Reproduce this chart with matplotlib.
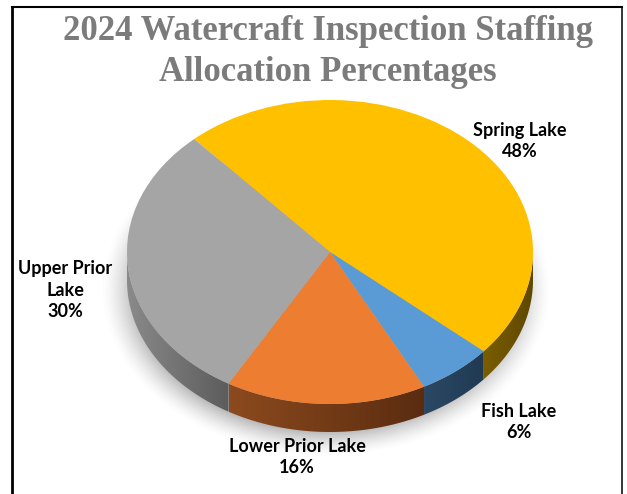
import numpy as np
import matplotlib.pyplot as plt
from matplotlib.patches import Polygon
from matplotlib.lines import Line2D
import matplotlib.colors as mcolors

# data
lakes = ["Spring Lake", "Fish Lake", "Lower Prior Lake", "Upper Prior Lake"]
shares = [48, 6, 16, 30]
label_lines = ["Spring Lake\n48%", "Fish Lake\n6%", "Lower Prior Lake\n16%", "Upper Prior\nLake\n30%"]
top_colors = ["#FFC000", "#5B9BD5", "#ED7D31", "#A5A5A5"]
side_colors = [("#7a5d00", "#5e4700"), ("#2b4864", "#203a52"),
               ("#8c4a1e", "#5a2c10"), ("#8a8a8a", "#5c5c5c")]

W, H = 627, 494
fig = plt.figure(figsize=(W / 100, H / 100), dpi=100)
ax = fig.add_axes([0, 0, 1, 1])
ax.axis("off")

# pie geometry in pixels (top face is an ellipse)
cx, cy, rx, ry = 330, 252, 203, 152
depth = 28 / ry
xlim = (-cx / rx, (W - cx) / rx)
ylim = ((cy - H) / ry, cy / ry)

# soft drop shadow
gx = np.linspace(xlim[0], xlim[1], 400)
gy = np.linspace(ylim[0], ylim[1], 320)
X, Y = np.meshgrid(gx, gy)
r = np.sqrt(((X + 0.02) / 1.11) ** 2 + ((Y + 0.25) / 1.1) ** 2)
alpha = 0.55 * np.clip((1.0 - r) / 0.16, 0, 1) ** 1.5
shadow = np.zeros(X.shape + (4,))
shadow[..., :3] = 0.45
shadow[..., 3] = alpha
ax.imshow(shadow, extent=(xlim[0], xlim[1], ylim[0], ylim[1]), origin="lower",
          aspect="auto", zorder=0, interpolation="bilinear")

# top face
wedges, _ = ax.pie(shares, colors=top_colors, startangle=132, counterclock=False,
                   radius=1, wedgeprops=dict(linewidth=0, zorder=3))

# side band of every slice (front half only)
for w, (c_left, c_right) in zip(wedges, side_colors):
    t1, t2 = w.theta1, w.theta2
    for k in (-1, 0, 1):
        lo = max(t1, 180 + 360 * k)
        hi = min(t2, 360 + 360 * k)
        if hi <= lo:
            continue
        t = np.radians(np.linspace(lo, hi, 200))
        top = np.column_stack([np.cos(t), np.sin(t)])
        bot = top[::-1] - [0, depth]
        poly = Polygon(np.vstack([top, bot]), closed=True, facecolor="none",
                       edgecolor="none", zorder=2)
        ax.add_patch(poly)
        x0, x1 = top[:, 0].min(), top[:, 0].max()
        y0, y1 = top[:, 1].min() - depth, top[:, 1].max()
        cmap = mcolors.LinearSegmentedColormap.from_list("side", [c_left, c_right])
        grad = np.linspace(0, 1, 256).reshape(1, -1)
        im = ax.imshow(grad, cmap=cmap, extent=(x0, x1, y0, y1), aspect="auto",
                       zorder=2, interpolation="bilinear")
        im.set_clip_path(poly)

ax.set_aspect("auto")
ax.set_xlim(*xlim)
ax.set_ylim(*ylim)

# title
fig.text(328 / W, 1 - 52 / H, "2024 Watercraft Inspection Staffing\nAllocation Percentages",
         ha="center", va="center", family="Liberation Serif", weight="bold",
         fontsize=25, color="#7b7b7b", linespacing=1.32)

# data labels
label_pos = [(520, 141), (519, 422), (297, 457), (65, 290)]
for txt, (px, py) in zip(label_lines, label_pos):
    fig.text(px / W, 1 - py / H, txt, ha="center", va="center", multialignment="center",
             family="Lato", weight="bold", fontsize=13, color="black", linespacing=1.3)

# frame
fig.add_artist(Line2D([12 / W, 12 / W], [0, 1 - 7 / H], color="black", lw=2.0,
                      transform=fig.transFigure, solid_capstyle="projecting"))
fig.add_artist(Line2D([12 / W, 622 / W], [1 - 7 / H, 1 - 7 / H], color="black", lw=1.5,
                      transform=fig.transFigure))
fig.add_artist(Line2D([622 / W, 622 / W], [0, 1 - 7 / H], color="black", lw=1.1,
                      transform=fig.transFigure))

fig.savefig("out.png", dpi=100, facecolor="white")
